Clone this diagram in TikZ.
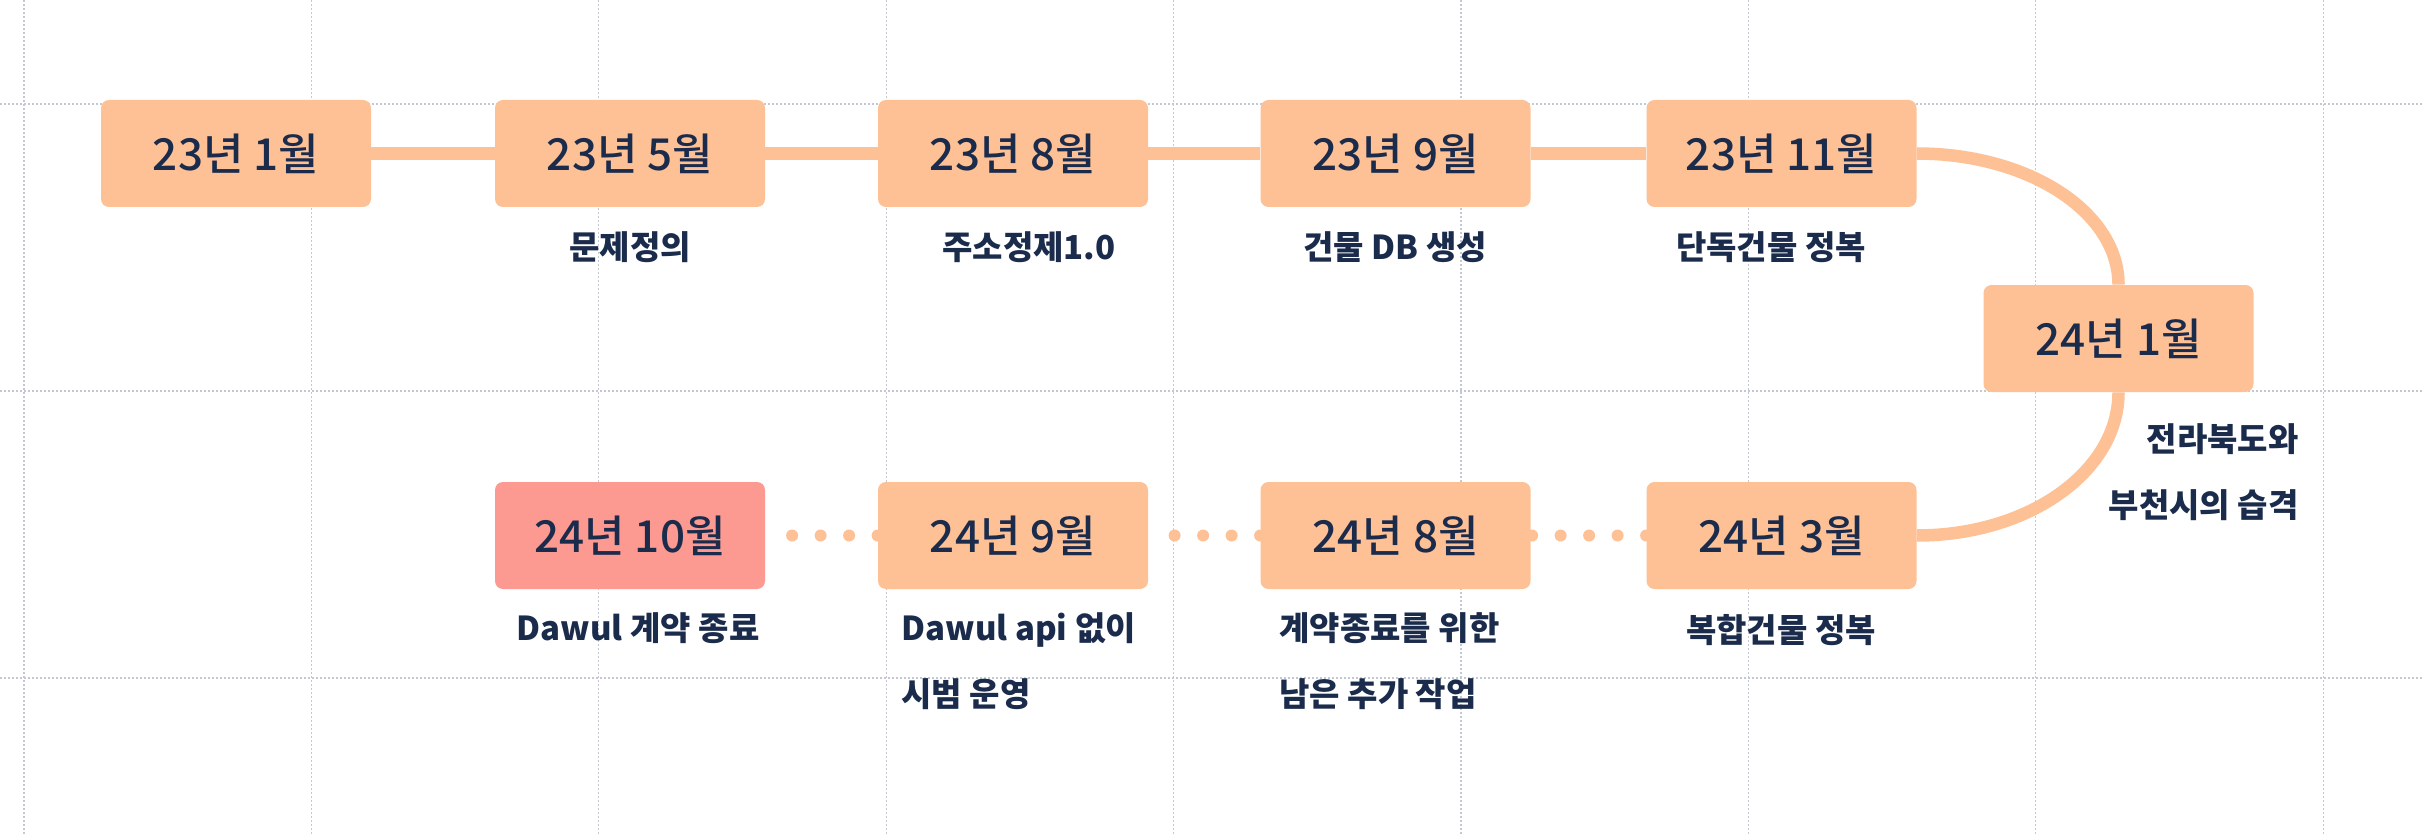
\documentclass[tikz,border=0pt]{standalone}
\usepackage{fontspec}
\setmainfont{Noto Sans CJK KR}
\newfontfamily\medfont{Noto Sans CJK KR}[UprightFont=* Medium]
\usetikzlibrary{backgrounds,calc}
\definecolor{peach}{HTML}{FEC196}
\definecolor{coral}{HTML}{FC9A91}
\definecolor{navy}{HTML}{1B2B4B}
\definecolor{gridc}{HTML}{C3C9D4}
\tikzset{
  datebox/.style={fill=peach, rounded corners=4pt, minimum width=135pt, minimum height=53.5pt, inner sep=0pt, text=navy, font=\medfont\fontsize{22}{26}\selectfont},
  hot/.style={fill=coral},
  desc/.style={text=navy, inner sep=0pt, font=\fontsize{16.5}{33}\selectfont\bfseries},
  link/.style={draw=peach, line width=6.25pt},
  dotlink/.style={draw=peach, line width=6pt, line cap=round, dash pattern=on 0pt off 14.25pt},
  gridline/.style={draw=gridc, line width=0.6pt, dash pattern=on 1pt off 1pt},
}
\begin{document}
\begin{tikzpicture}[x=0.5pt,y=-0.5pt]
\useasboundingbox (0,0) rectangle (2424,834);
% boxes
\node[datebox] (n1)  at (236,153.5) {23년 1월};
\node[datebox] (n5)  at (630,153.5) {23년 5월};
\node[datebox] (n8)  at (1013,153.5) {23년 8월};
\node[datebox] (n9)  at (1395.5,153.5) {23년 9월};
\node[datebox] (n11) at (1781.5,153.5) {23년 11월};
\node[datebox] (m1)  at (2118.5,338.5) {24년 1월};
\node[datebox,hot] (m10) at (630,535.5) {24년 10월};
\node[datebox] (m9)  at (1013,535.5) {24년 9월};
\node[datebox] (m8)  at (1395.5,535.5) {24년 8월};
\node[datebox] (m3)  at (1781.5,535.5) {24년 3월};
% labels
\node[desc] (l5)  at (630,247) {문제정의};
\node[desc] (l8)  at (1029,247) {주소정제1.0};
\node[desc] (l9)  at (1395,247) {건물 DB 생성};
\node[desc] (l11) at (1771,247) {단독건물 정복};
\node[desc, align=right, anchor=east] (lm1) at (2299,472) {전라북도와\\부천시의 습격};
\node[desc] (lm10) at (638,628) {Dawul 계약 종료};
\node[desc, align=left, anchor=west] (lm9) at (901,661.5) {Dawul api 없이\\시범 운영};
\node[desc, align=left, anchor=west] (lm8) at (1279,661.5) {계약종료를 위한\\남은 추가 작업};
\node[desc] (lm3) at (1781,630) {복합건물 정복};
\begin{scope}[on background layer]
  \fill[white] (0,0) rectangle (2424,834);
  \foreach \k in {0,...,8} \draw[gridline] ({24+287.4*\k},0) -- ({24+287.4*\k},834);
  \foreach \yy in {104,391,678} \draw[gridline] (0,\yy) -- (2424,\yy);
  \draw[link] (n1.east) -- (n5.west);
  \draw[link] (n5.east) -- (n8.west);
  \draw[link] (n8.east) -- (n9.west);
  \draw[link] (n9.east) -- (n11.west);
  \draw[link] (n11.east) .. controls ($(n11.east)+(111.6,0)$) and ($(m1.north)+(0,-72.6)$) .. (m1.north);
  \draw[link] (m1.south) .. controls ($(m1.south)+(0,79.3)$) and ($(m3.east)+(111.6,0)$) .. (m3.east);
  \draw[dotlink] (m3.west) -- (m8.east);
  \draw[dotlink] (m8.west) -- (m9.east);
  \draw[dotlink] (m9.west) -- (m10.east);
\end{scope}
\end{tikzpicture}
\end{document}
